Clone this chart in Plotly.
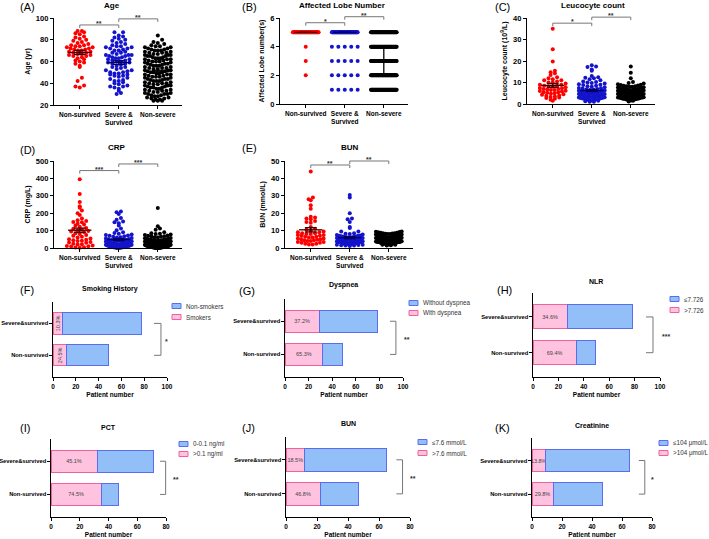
import numpy as np
import plotly.graph_objects as go

W, H = 709, 539
FONT = "Arial, Liberation Sans, sans-serif"

# ---- scatter dot plot data ----
GROUP_LABELS = ["Non-survived", "Severe &<br>Survived", "Non-severe"]
GROUP_COLORS = ["#ff0000", "#1414cc", "#000000"]
STAT_COLORS = ["#3a0000", "#000060", "#000000"]

age_nonsurv = [88, 88, 87, 86, 85, 83, 82, 81, 80, 79, 78, 77, 76, 75, 75, 74, 74, 73, 73, 72,
               72, 71, 71, 70, 70, 69, 69, 68, 68, 67, 67, 66, 66, 65, 65, 64, 63, 62, 61, 60,
               59, 58, 56, 55, 45, 42, 38, 37, 36]
age_severe = [87, 87, 84, 83, 82, 81, 80, 79, 78, 77, 76, 75, 74, 74, 73, 73, 72, 72, 71, 70,
              70, 69, 68, 68, 67, 66, 66, 66, 65, 65, 64, 64, 63, 63, 62, 62, 61, 61, 60, 60,
              59, 59, 58, 58, 57, 56, 55, 55, 54, 53, 52, 52, 51, 50, 50, 49, 49, 48, 48, 47,
              47, 46, 45, 44, 43, 42, 42, 41, 40, 39, 38, 37, 37, 36, 35, 33, 31, 30]
age_nonsevere = [84, 80, 78, 77, 76, 75, 74, 74, 73, 73, 72, 72, 71, 71, 70, 70, 70, 69, 69, 68,
                 68, 68, 67, 67, 66, 66, 66, 65, 65, 65, 64, 64, 63, 63, 63, 62, 62, 62, 61, 61,
                 60, 60, 60, 59, 59, 58, 58, 58, 57, 57, 56, 56, 56, 55, 55, 54, 54, 54, 53, 53,
                 52, 52, 52, 51, 51, 50, 50, 50, 49, 49, 48, 48, 48, 47, 47, 46, 46, 46, 45, 45,
                 44, 44, 44, 43, 43, 42, 42, 42, 41, 41, 40, 40, 40, 39, 39, 38, 38, 38, 37, 37,
                 36, 36, 36, 35, 35, 34, 34, 33, 33, 33, 32, 32, 31, 31, 30, 30, 30, 29, 29, 28,
                 28, 27, 27, 26, 26, 25, 25, 24, 24, 24]

LOBE_LEVELS = [1, 2, 3, 4, 5]
lobe_counts_nonsurv = [0, 1, 1, 1, 46]
lobe_counts_severe = [5, 5, 5, 5, 58]
lobe_counts_nonsevere = [45, 50, 45, 40, 45]

wbc_nonsurv = [35, 25.5, 19.8, 15.5, 14.8, 14.3, 13.5, 12.5, 12, 11.5, 11, 11, 10.5, 10, 10, 9.5,
               9, 9, 8.5, 8.5, 8, 8, 7.8, 7.5, 7.3, 7, 7, 6.8, 6.5, 6.5, 6.2, 6, 5.8, 5.5, 5.5,
               5.2, 5, 4.8, 4.5, 4.3, 4, 3.8, 3.5, 3.2, 3, 2.8, 2.5, 2, 1.5]
wbc_severe = [18, 17.5, 17.2, 16, 15.5, 13, 12.5, 12.2, 12, 11.5, 11, 10.5, 10.2, 10, 9.8, 9.5,
              9.2, 9, 8.8, 8.5, 8.3, 8, 7.8, 7.5, 7.3, 7.2, 7, 6.8, 6.6, 6.5, 6.3, 6.2, 6, 5.9,
              5.8, 5.6, 5.5, 5.4, 5.2, 5.1, 5, 4.9, 4.8, 4.7, 4.6, 4.5, 4.4, 4.3, 4.2, 4.1, 4,
              3.9, 3.8, 3.7, 3.6, 3.5, 3.4, 3.3, 3.2, 3.1, 3, 2.9, 2.8, 2.7, 2.6, 2.5, 2.4, 2.3,
              2.2, 2.1, 2, 1.9, 1.8, 1.6, 1.5, 1.3, 1.1, 1]
wbc_nonsevere = [17.5, 14.5, 12, 10.2, 9.8, 9.5, 9.2, 9, 8.8, 8.6, 8.5, 8.3, 8.2, 8, 8, 7.8, 7.7,
                 7.6, 7.5, 7.4, 7.3, 7.2, 7.1, 7, 7, 6.9, 6.8, 6.7, 6.6, 6.5, 6.5, 6.4, 6.3, 6.2,
                 6.1, 6, 6, 6, 5.9, 5.8, 5.7, 5.6, 5.5, 5.5, 5.5, 5.4, 5.3, 5.2, 5.1, 5, 5, 5,
                 4.9, 4.8, 4.7, 4.6, 4.5, 4.5, 4.5, 4.4, 4.3, 4.2, 4.1, 4, 4, 4, 3.9, 3.8, 3.7,
                 3.6, 3.5, 3.5, 3.5, 3.4, 3.3, 3.2, 3.1, 3, 3, 3, 2.9, 2.8, 2.7, 2.6, 2.5, 2.5,
                 2.4, 2.3, 2.2, 2.1, 2, 2, 1.9, 1.8, 1.6, 1.5, 1.2]

crp_nonsurv = [395, 310, 265, 240, 232, 215, 200, 190, 170, 160, 155, 150, 148, 140, 135, 130,
               122, 115, 110, 105, 102, 98, 95, 90, 85, 80, 75, 70, 65, 60, 55, 50, 48, 45, 42,
               40, 35, 32, 30, 25, 22, 20, 15, 12, 10, 8, 5, 3, 2]
crp_severe = [210, 205, 195, 172, 162, 152, 148, 142, 130, 112, 102, 90, 86, 82, 78, 75, 72, 70,
              68, 65, 62, 60, 58, 55, 52, 50, 48, 46, 45, 44, 42, 40, 39, 38, 36, 35, 34, 33, 32,
              30, 29, 28, 27, 26, 25, 24, 23, 22, 21, 20, 19, 18, 17, 16, 15, 14, 13, 12, 11,
              10, 10, 9, 8, 8, 7, 6, 6, 5, 5, 4, 4, 3, 3, 2, 2, 1, 1, 0.5]
crp_nonsevere = [230, 125, 112, 105, 90, 85, 82, 80, 78, 75, 72, 70, 68, 66, 64, 62, 60, 58, 56,
                 55, 54, 52, 50, 49, 48, 47, 46, 45, 44, 43, 42, 41, 40, 40, 39, 38, 37, 36, 35,
                 35, 34, 33, 32, 31, 30, 30, 29, 28, 27, 26, 25, 25, 24, 23, 22, 21, 20, 20, 19,
                 18, 18, 17, 16, 16, 15, 15, 14, 14, 13, 13, 12, 12, 11, 11, 10, 10, 10, 9, 9, 9,
                 8, 8, 8, 7, 7, 7, 6, 6, 6, 5, 5, 5, 5, 4, 4, 4, 4, 3, 3, 3, 3, 2, 2, 2, 2, 1, 1,
                 1, 1, 0.5, 0.5, 0.5]

bun_nonsurv = [44, 29, 28, 27.5, 24.5, 22.5, 18, 17.5, 17, 16.5, 15.5, 15, 14.5, 12, 11, 10.5,
               10, 9.5, 9, 9, 8.5, 8.5, 8, 8, 7.5, 7.5, 7, 7, 6.5, 6.5, 6, 6, 5.5, 5.5, 5, 5,
               4.8, 4.5, 4.5, 4, 4, 3.5, 3.5, 3, 3, 2.5, 2.5, 2, 2]
bun_severe = [30.5, 29, 20, 17, 16.5, 15, 12, 11.5, 9.5, 9.5, 8.5, 8.2, 8, 7.8, 7.5, 7.2, 7, 7,
              6.8, 6.6, 6.5, 6.3, 6.2, 6, 6, 5.8, 5.7, 5.6, 5.5, 5.4, 5.3, 5.2, 5.1, 5, 5, 4.9,
              4.8, 4.7, 4.6, 4.5, 4.5, 4.4, 4.3, 4.2, 4.1, 4, 4, 3.9, 3.8, 3.7, 3.6, 3.5, 3.5,
              3.4, 3.3, 3.2, 3.1, 3, 3, 2.9, 2.8, 2.7, 2.6, 2.5, 2.5, 2.4, 2.3, 2.2, 2.1, 2, 2,
              1.9, 1.8, 1.7, 1.6, 1.5, 1.5, 1.2]
bun_nonsevere = [9.5, 9.3, 9.2, 9, 8.8, 8.7, 8.5, 8.5, 8.3, 8.2, 8, 8, 7.8, 7.7, 7.6, 7.5, 7.4,
                 7.3, 7.2, 7.1, 7, 7, 6.9, 6.8, 6.7, 6.6, 6.5, 6.5, 6.4, 6.3, 6.2, 6.1, 6, 6,
                 5.9, 5.8, 5.7, 5.6, 5.5, 5.5, 5.4, 5.3, 5.2, 5.1, 5, 5, 5, 4.9, 4.8, 4.7, 4.6,
                 4.5, 4.5, 4.5, 4.4, 4.3, 4.2, 4.1, 4, 4, 4, 3.9, 3.8, 3.7, 3.6, 3.5, 3.5, 3.5,
                 3.4, 3.3, 3.2, 3.1, 3, 3, 3, 2.9, 2.8, 2.7, 2.6, 2.5, 2.5, 2.4, 2.3, 2.2, 2.1,
                 2, 2, 1.9, 1.8, 1.6, 1.5]

# ---- stacked bar data: [Non-survived, Severe&survived] ----
BAR_CATS = ["Non-survived", "Severe&survived"]
smoke_yes = [12, 8]
smoke_no = [37, 70]
dysp_yes = [32, 29]
dysp_no = [17, 49]
nlr_high = [34, 27]
nlr_low = [15, 51]
pct_high = [35, 32]
pct_low = [12, 39]
bun_high = [22, 12]
bun_low = [25, 53]
crea_high = [14, 9]
crea_low = [33, 56]

PINK, PINK_LINE = "#ffc3e0", "#f0609c"
BLUE, BLUE_LINE = "#92bff7", "#5a6cf0"


def px_x(p):
    return p / W


def px_y(p):
    return 1 - p / H


def ax_names(n):
    s = "" if n == 1 else str(n)
    return "xaxis" + s, "yaxis" + s, "x" + s, "y" + s


def swarm_x(values, center, binw, step, half=0.33):
    # spread points sideways inside value bins, centre-out
    v = np.asarray(values, dtype=float)
    x = np.full(len(v), float(center))
    keys = np.floor(v / binw + 1e-9)
    for k in np.unique(keys):
        idx = np.where(keys == k)[0]
        idx = idx[np.argsort(v[idx], kind="stable")]
        n = len(idx)
        if n < 2:
            continue
        d = min(step, 2 * half / (n - 1))
        offs = (np.arange(n) - (n - 1) / 2) * d
        offs = offs[np.argsort(np.abs(offs), kind="stable")]
        x[idx] = center + offs
    return x


lobe_groups = [np.repeat(LOBE_LEVELS, c) for c in
               (lobe_counts_nonsurv, lobe_counts_severe, lobe_counts_nonsevere)]

SCATTER = [
    dict(n=1, tag="(A)", title="Age", ytitle="Age (yr)",
         data=(age_nonsurv, age_severe, age_nonsevere), yrange=[20, 100], dtick=20,
         box=(54, 18, 182, 105), tag_at=(18, 7), title_at=(112, 5), stars=("**", "**"),
         br=(0.92, 0.99), binw=3.5, step=0.11, stat="mean"),
    dict(n=2, tag="(B)", title="Affected Lobe Number", ytitle="Affected Lobe number(s)",
         data=lobe_groups, yrange=[0, 6], dtick=2,
         box=(280, 18, 408, 104), tag_at=(240, 7), title_at=(342, 5), stars=("*", "**"),
         br=(0.945, 1.015), binw=1, step=0.18, stat="median"),
    dict(n=3, tag="(C)", title="Leucocyte count", ytitle="Leucocyte count (10<sup>9</sup>/L)",
         data=(wbc_nonsurv, wbc_severe, wbc_nonsevere), yrange=[0, 40], dtick=10,
         box=(527, 18, 655, 104), tag_at=(493, 7), title_at=(593, 5), stars=("*", "**"),
         br=(0.94, 1.01), binw=1.6, step=0.11, stat="mean"),
    dict(n=4, tag="(D)", title="CRP", ytitle="CRP (mg/L)",
         data=(crp_nonsurv, crp_severe, crp_nonsevere), yrange=[0, 500], dtick=100,
         box=(54, 161, 182, 248), tag_at=(18, 150), title_at=(117, 147), stars=("***", "***"),
         br=(0.89, 0.966), binw=20, step=0.11, stat="mean"),
    dict(n=5, tag="(E)", title="BUN", ytitle="BUN (mmol/L)",
         data=(bun_nonsurv, bun_severe, bun_nonsevere), yrange=[0, 50], dtick=10,
         box=(285, 161, 413, 248), tag_at=(240, 148), title_at=(350, 147), stars=("**", "**"),
         br=(0.954, 1.0), binw=2, step=0.11, stat="mean"),
]

BARS = [
    dict(n=6, tag="(F)", title="Smoking History", pos=smoke_yes, neg=smoke_no,
         labels=("Non-smokers", "Smokers"), xmax=100, box=(53, 302, 167, 377),
         tag_at=(18, 290), title_at=(110, 289), star="*", br=(0.886, 0.947, 0.965),
         leg=(172, 306, 317), textangle=-90),
    dict(n=7, tag="(G)", title="Dyspnea", pos=dysp_yes, neg=dysp_no,
         labels=("Without dyspnea", "With dyspnea"), xmax=100, box=(285, 299, 403, 377),
         tag_at=(237, 291), title_at=(343, 285), star="**", br=(0.89, 0.94, 0.99),
         leg=(409, 303, 313), textangle=0),
    dict(n=8, tag="(H)", title="NLR", pos=nlr_high, neg=nlr_low,
         labels=("≤7.726", ">7.726"), xmax=100, box=(533, 293, 660, 377),
         tag_at=(495, 290), title_at=(596, 281), star="***", br=(0.89, 0.945, 1.0),
         leg=(670, 299, 310), textangle=0),
    dict(n=9, tag="(I)", title="PCT", pos=pct_high, neg=pct_low,
         labels=("0-0.1 ng/ml", ">0.1 ng/ml"), xmax=80, box=(51, 439, 166, 517),
         tag_at=(18, 428), title_at=(108, 427), star="**", br=(0.948, 0.997, 1.04),
         leg=(179, 444, 454), textangle=0),
    dict(n=10, tag="(J)", title="BUN", pos=bun_high, neg=bun_low,
         labels=("≤7.6 mmol/L", ">7.6 mmol/L"), xmax=80, box=(286, 437, 410, 517),
         tag_at=(240, 428), title_at=(348, 423), star="**", br=(0.89, 0.94, 0.98),
         leg=(418, 442, 453), textangle=0),
    dict(n=11, tag="(K)", title="Creatinine", pos=crea_high, neg=crea_low,
         labels=("≤104 μmol/L", ">104 μmol/L"), xmax=80, box=(532, 438, 652, 517),
         tag_at=(493, 428), title_at=(592, 425), star="*", br=(0.89, 0.94, 0.975),
         leg=(659, 443, 453), textangle=0),
]

fig = go.Figure()
layout = {}
shapes = []
annotations = []

axis_common = dict(showline=True, linecolor="black", linewidth=1.3, ticks="outside",
                   ticklen=3, tickwidth=1.3, tickcolor="black", showgrid=False, zeroline=False,
                   automargin=False)


def add_text(text, x, y, size, bold=True, xanchor="center", color="black", xref="paper",
             yref="paper", yanchor="middle", yshift=0):
    annotations.append(dict(text=text, x=x, y=y, xref=xref, yref=yref, showarrow=False,
                            xanchor=xanchor, yanchor=yanchor, yshift=yshift,
                            font=dict(family=FONT, size=size, color=color,
                                      weight="bold" if bold else "normal")))


for p in SCATTER:
    xa, ya, xr, yr = ax_names(p["n"])
    x0, y0, x1, y1 = p["box"]
    layout[xa] = dict(axis_common, domain=[px_x(x0), px_x(x1)], anchor=yr,
                      range=[-0.66, 2.62], tickvals=[0, 1, 2], ticktext=GROUP_LABELS,
                      tickfont=dict(family=FONT, size=6.5, weight="bold", color="black"))
    layout[ya] = dict(axis_common, domain=[px_y(y1), px_y(y0)], anchor=xr,
                      range=p["yrange"], dtick=p["dtick"],
                      tickfont=dict(family=FONT, size=7.5, weight="bold", color="black"),
                      title=dict(text=p["ytitle"], standoff=4,
                                 font=dict(family=FONT, size=7, weight="bold", color="black")))
    for gi, vals in enumerate(p["data"]):
        vals = np.asarray(vals, dtype=float)
        xs = swarm_x(vals, gi, p["binw"], p["step"])
        fig.add_trace(go.Scatter(x=xs, y=vals, mode="markers", xaxis=xr, yaxis=yr,
                                 marker=dict(size=4, color=GROUP_COLORS[gi]),
                                 cliponaxis=False, showlegend=False, hoverinfo="skip"))
        if p["stat"] == "mean":
            mid = vals.mean()
            sem = vals.std(ddof=1) / np.sqrt(len(vals))
            lo, hi = mid - sem, mid + sem
        else:
            lo, mid, hi = np.percentile(vals, [25, 50, 75], method="higher")
        fig.add_trace(go.Scatter(
            x=[gi - 0.3, gi + 0.3, None, gi - 0.15, gi + 0.15, None, gi - 0.15, gi + 0.15,
               None, gi, gi],
            y=[mid, mid, None, lo, lo, None, hi, hi, None, lo, hi],
            mode="lines", xaxis=xr, yaxis=yr, line=dict(color=STAT_COLORS[gi], width=1.3),
            showlegend=False, hoverinfo="skip"))
    # significance brackets
    for (a, b), yb, star in zip([(0, 1), (1, 2)], p["br"], p["stars"]):
        for sx0, sy0, sx1, sy1 in [(a, yb - 0.035, a, yb), (a, yb, b, yb), (b, yb, b, yb - 0.035)]:
            shapes.append(dict(type="line", xref=xr, yref=yr + " domain", x0=sx0, y0=sy0,
                               x1=sx1, y1=sy1, line=dict(color="#777777", width=1)))
        add_text(star, (a + b) / 2, yb, 7, xref=xr, yref=yr + " domain",
                 yanchor="bottom", color="#333333", yshift=-4)
    add_text(p["tag"], px_x(p["tag_at"][0]), px_y(p["tag_at"][1]), 11, bold=False,
             xanchor="left")
    add_text(p["title"], px_x(p["title_at"][0]), px_y(p["title_at"][1]), 8)

for p in BARS:
    xa, ya, xr, yr = ax_names(p["n"])
    x0, y0, x1, y1 = p["box"]
    layout[xa] = dict(axis_common, domain=[px_x(x0), px_x(x1)], anchor=yr,
                      range=[0, p["xmax"]], dtick=20,
                      tickfont=dict(family=FONT, size=6.5, weight="bold", color="black"),
                      title=dict(text="Patient number", standoff=3,
                                 font=dict(family=FONT, size=6.5, weight="bold", color="black")))
    layout[ya] = dict(axis_common, domain=[px_y(y1), px_y(y0)], anchor=xr, type="category",
                      categoryorder="array", categoryarray=BAR_CATS, range=[-0.68, 1.67],
                      ticklen=2.5,
                      tickfont=dict(family=FONT, size=5.8, weight="bold", color="black"))
    totals = [a + b for a, b in zip(p["pos"], p["neg"])]
    pct = [f"{a / t * 100:.1f}%" for a, t in zip(p["pos"], totals)]
    fig.add_trace(go.Bar(y=BAR_CATS, x=p["pos"], orientation="h", xaxis=xr, yaxis=yr,
                         marker=dict(color=PINK, line=dict(color=PINK_LINE, width=1)),
                         text=pct, textposition="inside", insidetextanchor="middle",
                         textangle=p["textangle"], constraintext="none",
                         textfont=dict(family=FONT, size=5.5, color="#444444"),
                         showlegend=False, hoverinfo="skip"))
    fig.add_trace(go.Bar(y=BAR_CATS, x=p["neg"], orientation="h", xaxis=xr, yaxis=yr,
                         marker=dict(color=BLUE, line=dict(color=BLUE_LINE, width=1)),
                         showlegend=False, hoverinfo="skip"))
    tx, vx, sx = p["br"]
    for lx0, ly0, lx1, ly1 in [(tx, 0, vx, 0), (vx, 0, vx, 1), (tx, 1, vx, 1)]:
        shapes.append(dict(type="line", xref=xr + " domain", yref=yr, x0=lx0, y0=ly0,
                           x1=lx1, y1=ly1, line=dict(color="#777777", width=1)))
    add_text(p["star"], sx, 0.5, 7, xref=xr + " domain", yref=yr, xanchor="left",
             color="#333333", yshift=-2)
    # hand-made legend: blue entry on top, pink below
    lx, ly_top, ly_bot = p["leg"]
    for (fill, edge), ly, lab in zip([(BLUE, BLUE_LINE), (PINK, PINK_LINE)],
                                     [ly_top, ly_bot], p["labels"]):
        shapes.append(dict(type="rect", xref="paper", yref="paper",
                           x0=px_x(lx), x1=px_x(lx + 9), y0=px_y(ly + 2.5), y1=px_y(ly - 2.5),
                           fillcolor=fill, line=dict(color=edge, width=1)))
        add_text(lab, px_x(lx + 12), px_y(ly), 6.3, bold=False, xanchor="left",
                 color="#333333")
    add_text(p["tag"], px_x(p["tag_at"][0]), px_y(p["tag_at"][1]), 11, bold=False,
             xanchor="left")
    add_text(p["title"], px_x(p["title_at"][0]), px_y(p["title_at"][1]), 7)

fig.update_layout(
    template="none",
    width=W, height=H,
    margin=dict(l=0, r=0, t=0, b=0),
    paper_bgcolor="white", plot_bgcolor="white",
    barmode="stack", bargap=0.33,
    showlegend=False,
    font=dict(family=FONT, color="black"),
    shapes=shapes, annotations=annotations,
    **layout,
)

# the page body has a default 8px margin; drop it so the figure sits at the corner
fig.write_html("out.html", config={"displayModeBar": False},
               post_script="document.body.style.margin = '0px';")
